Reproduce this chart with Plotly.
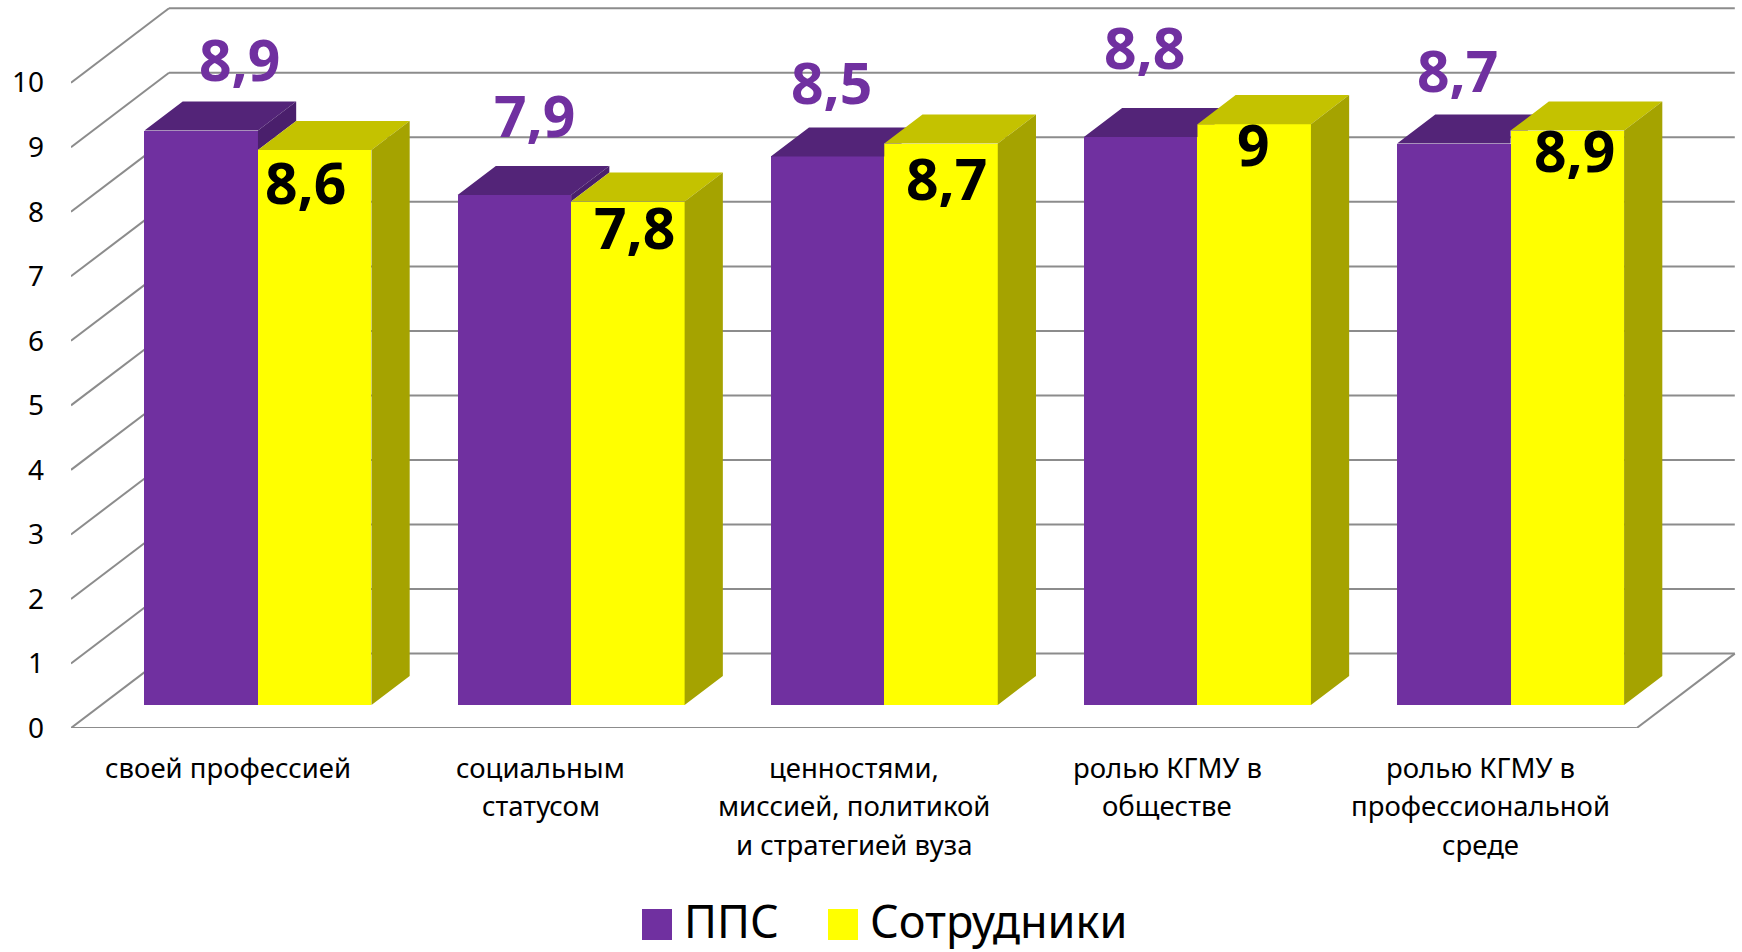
import plotly.graph_objects as go

# ---------------- data ----------------
categories = [
    "своей профессией",
    "социальным<br>статусом",
    "ценностями,<br>миссией, политикой<br>и стратегией вуза",
    "ролью КГМУ в<br>обществе",
    "ролью КГМУ в<br>профессиональной<br>среде",
]
series_names = ["ППС", "Сотрудники"]
pps = [8.9, 7.9, 8.5, 8.8, 8.7]
staff = [8.6, 7.8, 8.7, 9.0, 8.9]
y_ticks = [0, 1, 2, 3, 4, 5, 6, 7, 8, 9, 10]

# ---------------- style / layout ----------------
W, H = 1742, 952
ML, MR, MT, MB = 71, 5, 2, 224
X0, X1 = -0.5, 4.82
Y0, Y1 = 0, 11.25
PW, PH = W - ML - MR, H - MT - MB
SX = PW / (X1 - X0)          # px per category
SY = PH / (Y1 - Y0)          # px per value unit
DX = 98 / SX                 # full depth offset (x, data units)
DY = 74.4 / SY               # full depth offset (y, data units)
F1, F2 = 0.31, 0.70          # bar depth range (fraction of full depth)
BW = 113.5 / SX              # bar width
XE = len(categories) - 0.5   # right end of floor

FONT = "Noto Sans"
PURPLE, PURPLE_TOP, PURPLE_SIDE = "#7030A0", "#532478", "#4A1F6C"
YELLOW, YELLOW_TOP, YELLOW_SIDE = "#FFFF00", "#C4C200", "#A5A300"
GRID = "#8C8C8C"

# label nudges (pixels)
pps_lbl_dx = [38, 20, 4, 4, 4]
pps_lbl_dy = [72, 80, 74, 90, 74]
staff_lbl_dx = [-9, 7, 5, -1, 7]
staff_lbl_dy = [-32, -25, -34, -20, -19]

def fmt(v):
    return f"{v:g}".replace(".", ",")

def paper_x(px):
    return (px - ML) / PW

def paper_y(py):
    return (H - MB - py) / PH

fig = go.Figure()

idx = list(range(len(categories)))
pps_x = [i + F1 * DX - BW / 2 for i in idx]
staff_x = [i + F1 * DX + BW / 2 for i in idx]
hover_cats = [c.replace("<br>", " ") for c in categories]

# front faces as bars
fig.add_trace(go.Bar(x=pps_x, y=pps, base=F1 * DY, width=BW, name=series_names[0],
                     marker=dict(color=PURPLE, line=dict(width=0)), showlegend=False,
                     hovertext=hover_cats,
                     hovertemplate="%{hovertext}: %{y}<extra>ППС</extra>"))
fig.add_trace(go.Bar(x=staff_x, y=staff, base=F1 * DY, width=BW, name=series_names[1],
                     marker=dict(color=YELLOW, line=dict(width=0)), showlegend=False,
                     hovertext=hover_cats,
                     hovertemplate="%{hovertext}: %{y}<extra>Сотрудники</extra>"))

# 3D top / side faces derived from the values
dX = (F2 - F1) * DX
dY = (F2 - F1) * DY
ptop_x, ptop_y, pside_x, pside_y = [], [], [], []
stop_x, stop_y, sside_x, sside_y = [], [], [], []

def add_poly(xs, ys, pts):
    for px, py in pts:
        xs.append(px)
        ys.append(py)
    xs.append(pts[0][0]); ys.append(pts[0][1])
    xs.append(None); ys.append(None)

for i, vp, vy in zip(idx, pps, staff):
    xl = i + F1 * DX - BW
    xr = i + F1 * DX
    a = vp + F1 * DY
    b = vp + F2 * DY
    c = vy + F1 * DY
    if c <= a:
        poly = [(xl, a), (xr, a), (xr + dX, b), (xl + dX, b)]
    elif c >= b:
        poly = [(xl, a), (xr, a), (xr, b), (xl + dX, b)]
    else:
        xd = xr + (c - a) / (b - a) * dX
        poly = [(xl, a), (xr, a), (xr, c), (xd, c), (xr + dX, b), (xl + dX, b)]
    add_poly(ptop_x, ptop_y, poly)
    if vp > vy:
        add_poly(pside_x, pside_y, [(xr, c), (xr + dX, c + dY), (xr + dX, b), (xr, a)])
    xr2 = xr + BW
    a2, b2 = c, vy + F2 * DY
    add_poly(stop_x, stop_y, [(xr, a2), (xr2, a2), (xr2 + dX, b2), (xr + dX, b2)])
    add_poly(sside_x, sside_y, [(xr2, F1 * DY), (xr2 + dX, F2 * DY), (xr2 + dX, b2), (xr2, a2)])

for xs, ys, col in [(ptop_x, ptop_y, PURPLE_TOP), (pside_x, pside_y, PURPLE_SIDE),
                    (stop_x, stop_y, YELLOW_TOP), (sside_x, sside_y, YELLOW_SIDE)]:
    fig.add_trace(go.Scatter(x=xs, y=ys, mode="lines", fill="toself", fillcolor=col,
                             line=dict(width=0, color=col), hoverinfo="skip",
                             showlegend=False))

# walls / gridlines (below traces)
shapes = []
for v in y_ticks:
    shapes.append(dict(type="line", xref="x", yref="y", x0=X0, y0=v, x1=X0 + DX, y1=v + DY,
                       line=dict(color=GRID, width=2), layer="below"))
    shapes.append(dict(type="line", xref="x", yref="y", x0=X0 + DX, y0=v + DY, x1=XE + DX, y1=v + DY,
                       line=dict(color=GRID, width=2), layer="below"))
shapes.append(dict(type="line", xref="x", yref="y", x0=X0, y0=0, x1=XE, y1=0,
                   line=dict(color=GRID, width=2), layer="below"))
shapes.append(dict(type="line", xref="x", yref="y", x0=XE, y0=0, x1=XE + DX, y1=DY,
                   line=dict(color=GRID, width=2), layer="below"))

annotations = []
# value labels
for i, v, ddx, ddy in zip(idx, pps, pps_lbl_dx, pps_lbl_dy):
    annotations.append(dict(x=pps_x[i], y=v + F1 * DY, xref="x", yref="y", text=fmt(v),
                            showarrow=False, xanchor="center", yanchor="middle",
                            xshift=ddx, yshift=ddy,
                            font=dict(family=FONT, size=57, color=PURPLE, weight="bold")))
for i, v, ddx, ddy in zip(idx, staff, staff_lbl_dx, staff_lbl_dy):
    annotations.append(dict(x=staff_x[i], y=v + F1 * DY, xref="x", yref="y", text=fmt(v),
                            showarrow=False, xanchor="center", yanchor="middle",
                            xshift=ddx, yshift=ddy,
                            font=dict(family=FONT, size=57, color="#000000", weight="bold")))

# category labels (front-plane category centres), one annotation per line
cat_line0_px, cat_line_gap = 767, 38.9
for i, c in zip(idx, categories):
    for k, line in enumerate(c.split("<br>")):
        annotations.append(dict(x=paper_x(ML + (i - X0) * SX),
                                y=paper_y(cat_line0_px + k * cat_line_gap),
                                xref="paper", yref="paper", text=line,
                                showarrow=False, xanchor="center", yanchor="middle",
                                font=dict(family=FONT, size=27.5, color="#000000")))

# legend (manual)
leg = [(642, PURPLE, series_names[0]), (828, YELLOW, series_names[1])]
for px, col, name in leg:
    shapes.append(dict(type="rect", xref="paper", yref="paper",
                       x0=paper_x(px), x1=paper_x(px + 30), y0=paper_y(940), y1=paper_y(909),
                       fillcolor=col, line=dict(width=0)))
    annotations.append(dict(x=paper_x(px + 40), y=paper_y(920), xref="paper", yref="paper",
                            text=name, showarrow=False, xanchor="left", yanchor="middle",
                            font=dict(family=FONT, size=45, color="#000000")))

fig.update_layout(
    width=W, height=H, autosize=False,
    margin=dict(l=ML, r=MR, t=MT, b=MB, pad=0),
    paper_bgcolor="white", plot_bgcolor="white",
    barmode="overlay", bargap=0,
    showlegend=False,
    shapes=shapes, annotations=annotations,
    font=dict(family=FONT, color="#000000"),
    xaxis=dict(range=[X0, X1], showgrid=False, zeroline=False, showline=False,
               showticklabels=False, ticks="", fixedrange=True),
    yaxis=dict(range=[Y0, Y1], showgrid=False, zeroline=False, showline=False,
               tickmode="array", tickvals=y_ticks, ticktext=[str(t) for t in y_ticks],
               ticks="", ticklabelstandoff=26, automargin=False,
               tickfont=dict(family=FONT, size=28, color="#000000"), fixedrange=True),
)

fig.write_html("out.html", config={"displayModeBar": False},
               post_script="document.body.style.margin='0';")
